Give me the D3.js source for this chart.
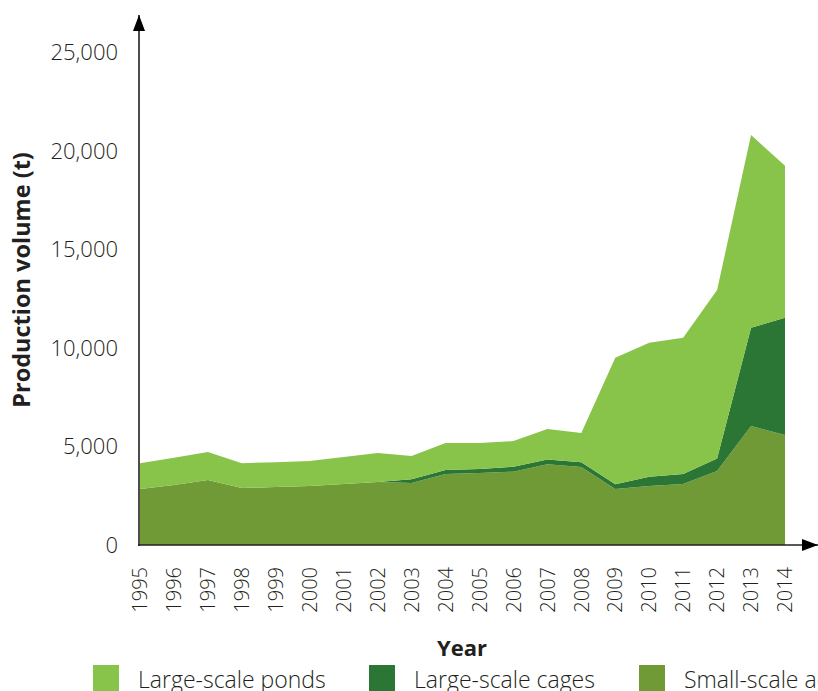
<!DOCTYPE html>
<html>
<head>
<meta charset="utf-8">
<script src="https://cdn.jsdelivr.net/npm/d3@7"></script>
<style>
  html, body { margin: 0; padding: 0; background: #fff; overflow: hidden; }
  text { font-family: "Open Sans", sans-serif; fill: #231f20; }
</style>
</head>
<body>
<div id="chart"></div>
<script>
// values (tonnes)
var years = [1995, 1996, 1997, 1998, 1999, 2000, 2001, 2002, 2003, 2004,
             2005, 2006, 2007, 2008, 2009, 2010, 2011, 2012, 2013, 2014];
var smallScale = [2840, 3040, 3300, 2890, 2940, 2990, 3090, 3190, 3140, 3600,
                  3650, 3720, 4100, 3950, 2840, 2990, 3090, 3750, 6030, 5580];
var largeCages = [0, 0, 0, 0, 0, 0, 0, 0, 200, 200,
                  200, 250, 240, 240, 240, 470, 510, 640, 4990, 5940];
var largePonds = [1310, 1390, 1415, 1260, 1260, 1270, 1370, 1470, 1170, 1370,
                  1320, 1300, 1540, 1490, 6420, 6800, 6910, 8540, 9770, 7710];
var yTicks = [0, 5000, 10000, 15000, 20000, 25000];

var seriesKeys = ["small", "cages", "ponds"];
var seriesNames = {
  ponds: "Large-scale ponds",
  cages: "Large-scale cages",
  small: "Small-scale aquaculture"
};
var colors = { ponds: "#88c34a", cages: "#2c7635", small: "#6f9a36" };
var legendOrder = ["ponds", "cages", "small"];

var width = 818, height = 691;

var rows = years.map(function(y, i) {
  return { year: y, small: smallScale[i], cages: largeCages[i], ponds: largePonds[i] };
});

var svg = d3.select("#chart")
  .append("svg")
  .attr("width", width)
  .attr("height", height);

var x = d3.scaleLinear().domain([1995, 2014]).range([140, 785]);
var y = d3.scaleLinear().domain([0, 25000]).range([545, 52]);

var stack = d3.stack().keys(seriesKeys);
var layers = stack(rows);

var area = d3.area()
  .x(function(d) { return x(d.data.year); })
  .y0(function(d) { return y(d[0]); })
  .y1(function(d) { return y(d[1]); });

svg.append("g")
  .selectAll("path")
  .data(layers)
  .enter()
  .append("path")
  .attr("d", area)
  .attr("fill", function(d) { return colors[d.key]; });

// y tick labels (no tick marks)
svg.append("g")
  .selectAll("text")
  .data(yTicks)
  .enter()
  .append("text")
  .attr("x", 118)
  .attr("y", function(d) { return y(d); })
  .attr("dy", "0.36em")
  .attr("text-anchor", "end")
  .style("font-size", "22px")
  .style("font-weight", 300)
  .text(function(d) { return d3.format(",")(d); });

// x tick labels, rotated
svg.append("g")
  .selectAll("text")
  .data(years)
  .enter()
  .append("text")
  .attr("transform", function(d) { return "translate(" + x(d) + ",567) rotate(-90)"; })
  .attr("dy", "0.36em")
  .attr("text-anchor", "end")
  .style("font-size", "20px")
  .style("font-weight", 300)
  .text(function(d) { return d; });

// axis lines with arrowheads
var defs = svg.append("defs");
defs.append("marker")
  .attr("id", "arrow")
  .attr("viewBox", "0 0 16 12")
  .attr("refX", 16)
  .attr("refY", 6)
  .attr("markerWidth", 16)
  .attr("markerHeight", 12)
  .attr("markerUnits", "userSpaceOnUse")
  .attr("orient", "auto")
  .append("path")
  .attr("d", "M0,0L16,6L0,12Z")
  .attr("fill", "#000");

svg.append("line")
  .attr("x1", 139).attr("y1", y(0) + 1)
  .attr("x2", 139).attr("y2", 15)
  .attr("stroke", "#231f20").attr("stroke-width", 1.6)
  .attr("marker-end", "url(#arrow)");

svg.append("line")
  .attr("x1", 138).attr("y1", y(0))
  .attr("x2", 818).attr("y2", y(0))
  .attr("stroke", "#231f20").attr("stroke-width", 1.6)
  .attr("marker-end", "url(#arrow)");

// axis titles
svg.append("text")
  .attr("transform", "translate(22,280) rotate(-90)")
  .attr("dy", "0.36em")
  .attr("text-anchor", "middle")
  .style("font-size", "23.5px")
  .style("font-weight", 700)
  .text("Production volume (t)");

svg.append("text")
  .attr("x", 462)
  .attr("y", 656)
  .attr("text-anchor", "middle")
  .style("font-size", "22px")
  .style("font-weight", 700)
  .text("Year");

// legend
var legendX = [93, 369, 639];
var legend = svg.append("g")
  .selectAll("g")
  .data(legendOrder)
  .enter()
  .append("g")
  .attr("transform", function(d, i) { return "translate(" + legendX[i] + ",665)"; });

legend.append("rect")
  .attr("width", 26)
  .attr("height", 26)
  .attr("fill", function(d) { return colors[d]; });

legend.append("text")
  .attr("x", 45)
  .attr("y", 23)
  .style("font-size", "23px")
  .style("font-weight", 300)
  .text(function(d) { return seriesNames[d]; });
</script>
</body>
</html>
